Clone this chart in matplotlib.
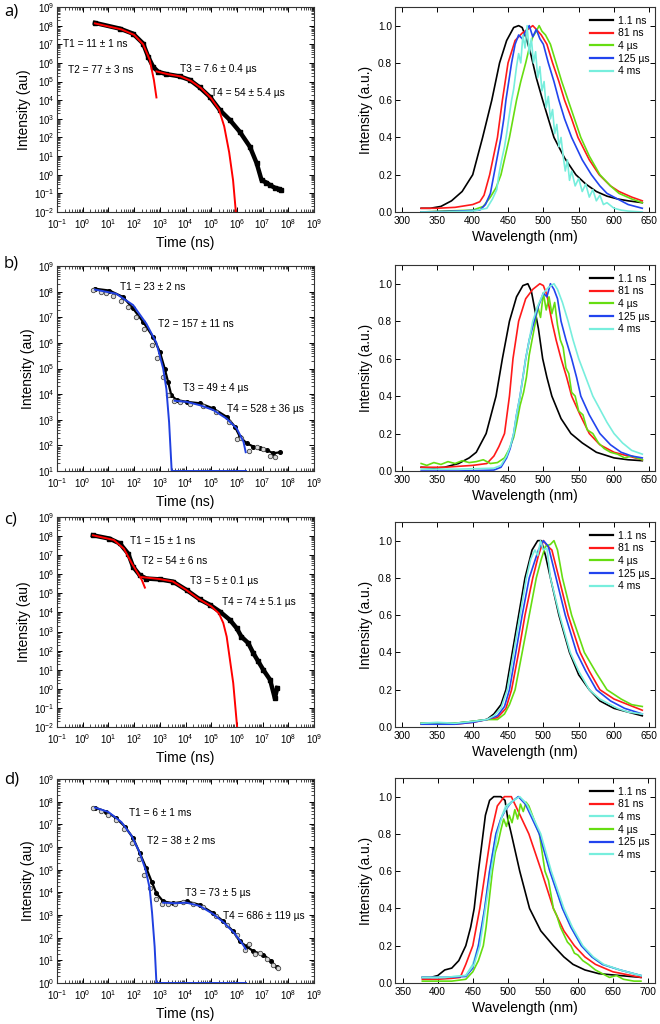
import math
import matplotlib
matplotlib.use('Agg')
import matplotlib.pyplot as plt
from matplotlib.ticker import FixedLocator, LogLocator, NullFormatter

plt.rcParams['font.family'] = ['Liberation Sans', 'DejaVu Sans']
plt.rcParams['mathtext.fontset'] = 'custom'
plt.rcParams['mathtext.rm'] = 'Liberation Sans'
plt.rcParams['mathtext.default'] = 'regular'

# ---------------- decay data (time in ns, intensity in au) ----------------
a_t = [3.0, 28, 91, 224, 355, 550, 870, 1.8e3, 6.0e3, 1.5e4, 3.6e4, 8.9e4, 2.2e5, 5.4e5,
       1.3e6, 3.2e6, 5.9e6, 9.1e6, 1.4e7, 2.0e7, 3.0e7, 4.5e7, 5.2e7]
a_I = [1.4e8, 6.9e7, 3.7e7, 1.1e7, 2.1e6, 6.2e5, 3.3e5, 2.5e5, 1.9e5, 1.2e5, 4.8e4, 1.5e4, 2.9e3, 850,
       200, 32, 4.1, 0.51, 0.38, 0.27, 0.2, 0.17, 0.15]
a_fit1_t = [3.0, 32, 100, 224, 410, 590, 740]
a_fit1_I = [1.32e8, 6.3e7, 3.2e7, 1.0e7, 1.4e6, 1.2e5, 1.4e4]
a_fit2_t = [740, 2e3, 6.3e3, 1.6e4, 4e4, 1e5, 2e5, 3.2e5, 5e5, 7.1e5, 9.1e5]
a_fit2_I = [3.5e5, 2.5e5, 1.9e5, 1.1e5, 4.5e4, 1.26e4, 3.2e3, 400, 16, 0.5, 0.01]

b_t = [3.0, 11, 37, 91, 224, 550, 1.0e3, 1.55e3, 2.1e3, 2.8e3, 4.5e3, 1.1e4, 3.6e4, 1.2e5, 4.0e5,
       8.3e5, 1.3e6, 2.4e6, 4.4e6, 7.9e6, 1.45e7, 2.6e7, 4.8e7]
b_I = [1.3e8, 1.1e8, 6.2e7, 2.2e7, 6.6e6, 1.7e6, 4.5e5, 1.0e5, 3.0e4, 9.1e3, 5.9e3, 5.0e3, 4.4e3, 2.75e3, 1.3e3,
       540, 220, 120, 90, 76, 66, 49, 54]
b_t2 = [2.5, 5, 8, 15, 30, 60, 120, 250, 500, 800, 1.3e3, 2.0e3, 3.5e3, 6e3, 1.5e4, 5e4, 1.5e5, 5e5,
        1.0e6, 1.5e6, 3e6, 6e6, 1.0e7, 2.0e7, 3.0e7]
b_I2 = [1.2e8, 1.0e8, 9e7, 7e7, 4.5e7, 2.5e7, 1.0e7, 3.5e6, 8e5, 2.5e5, 4.5e4, 9e3, 5.2e3, 4.8e3, 4.3e3, 3.3e3,
        2.0e3, 800, 180, 200, 60, 90, 70, 40, 35]
b_fit1_t = [3.0, 20, 91, 300, 740, 1.35e3, 1.8e3, 2.3e3, 2.6e3, 2.9e3]
b_fit1_I = [1.2e8, 8.3e7, 3.0e7, 5.6e6, 1.0e6, 1.0e5, 1.6e4, 800, 80, 10]
b_fit2_t = [3.8e3, 1.1e4, 3.6e4, 1.2e5, 4.0e5, 9.8e5, 1.8e6, 2.2e6]
b_fit2_I = [5.5e3, 5.0e3, 3.7e3, 2.4e3, 1.1e3, 460, 140, 54]

c_t = [2.5, 11, 28, 59, 91, 166, 300, 1.0e3, 3.3e3, 1.1e4, 3.6e4, 8.9e4, 2.2e5, 5.4e5, 9.8e5, 1.5e6,
       2.75e6, 4.4e6, 6.8e6, 1.07e7, 1.95e7, 3.0e7, 3.7e7]
c_I = [1.1e8, 7.4e7, 4.1e7, 1.2e7, 2.5e6, 8.9e5, 6.0e5, 5.4e5, 4.1e5, 1.5e5, 4.8e4, 2.5e4, 1.1e4, 4.0e3,
       1.5e3, 540, 250, 72, 27, 9.8, 3.0, 0.32, 1.1]
c_fit1_t = [2.5, 16, 40, 79, 141, 200, 263]
c_fit1_I = [1.1e8, 6.3e7, 2.2e7, 4.0e6, 1.1e6, 5.0e5, 2.0e5]
c_fit2_t = [200, 1e3, 3.2e3, 1e4, 3.2e4, 1e5, 2e5, 2.95e5, 4e5, 7.2e5, 1.02e6]
c_fit2_I = [7.1e5, 5.6e5, 4.2e5, 1.6e5, 5.2e4, 2.1e4, 8.9e3, 2.8e3, 540, 2.0, 0.01]

d_t = [3.0, 8.3, 20, 44, 91, 166, 300, 480, 740, 1.35e3, 3.3e3, 1.1e4, 3.6e4, 1.2e5, 3.0e5, 7.2e5,
       1.3e6, 2.4e6, 4.4e6, 1.07e7, 2.2e7, 3.5e7]
d_I = [5.5e7, 3.6e7, 1.9e7, 7.9e6, 2.5e6, 5.4e5, 1.15e5, 3.0e4, 9.1e3, 4.0e3, 3.3e3, 4.0e3, 2.8e3, 1.2e3,
       520, 190, 68, 41, 25, 18, 9, 4.9]
d_t2 = [2.5, 5, 10, 20, 40, 80, 150, 250, 400, 700, 1.2e3, 2e3, 4e3, 8e3, 2e4, 5e4, 1.5e5, 4e5, 1e6,
        2e6, 3e6, 5e6, 8e6, 1.5e7, 2.5e7, 4e7]
d_I2 = [5e7, 3.8e7, 2.6e7, 1.6e7, 6e6, 1.5e6, 3e5, 6e4, 1.5e4, 5e3, 3.2e3, 3.0e3, 3.1e3, 3.6e3, 3.2e3,
        2.2e3, 9e2, 3.5e2, 1.3e2, 30, 50, 20, 22, 12, 6, 4.5]
d_fit1_t = [3.0, 10, 32, 79, 158, 280, 400, 500, 630, 740]
d_fit1_I = [5.5e7, 3.5e7, 1.26e7, 3.2e6, 6.3e5, 1e5, 1.6e4, 1.26e3, 40, 1.0]
d_fit2_t = [1.35e3, 4e3, 1.1e4, 3.6e4, 1.2e5, 3.2e5, 7.9e5, 1.6e6, 2.2e6]
d_fit2_I = [3.5e3, 3.3e3, 3.5e3, 2.5e3, 1.1e3, 450, 160, 56, 32]

a_labels = ['T1 = 11 ± 1 ns', 'T2 = 77 ± 3 ns', 'T3 = 7.6 ± 0.4 µs', 'T4 = 54 ± 5.4 µs']
a_lab_pos = [(0.17, 1.1e7), (0.27, 4.0e5), (6.0e3, 5.0e5), (1.0e5, 2.5e4)]
b_labels = ['T1 = 23 ± 2 ns', 'T2 = 157 ± 11 ns', 'T3 = 49 ± 4 µs', 'T4 = 528 ± 36 µs']
b_lab_pos = [(28, 1.45e8), (870, 5.6e6), (8.1e3, 1.66e4), (4.0e5, 2.6e3)]
c_labels = ['T1 = 15 ± 1 ns', 'T2 = 54 ± 6 ns', 'T3 = 5 ± 0.1 µs', 'T4 = 74 ± 5.1 µs']
c_lab_pos = [(68, 5.4e7), (210, 4.8e6), (1.5e4, 4.4e5), (2.75e5, 3.4e4)]
d_labels = ['T1 = 6 ± 1 ms', 'T2 = 38 ± 2 ms', 'T3 = 73 ± 5 µs', 'T4 = 686 ± 119 µs']
d_lab_pos = [(65, 3.1e7), (320, 1.9e6), (9.3e3, 9.1e3), (3.0e5, 8.7e2)]

decay_xticks = [1e-1, 1e0, 1e1, 1e2, 1e3, 1e4, 1e5, 1e6, 1e7, 1e8, 1e9]

# ---------------- spectra ----------------
legend_abc = ['1.1 ns', '81 ns', '4 µs', '125 µs', '4 ms']
legend_d = ['1.1 ns', '81 ns', '4 ms', '4 µs', '125 µs', '4 ms']

a_black_wl = [327, 340, 355, 370, 385, 400, 414, 427, 438, 448, 458, 465, 470, 476, 482, 490, 499, 507, 515, 530, 546, 560, 575, 590, 605, 620, 640]
a_black_I = [0.02, 0.02, 0.03, 0.06, 0.11, 0.20, 0.40, 0.60, 0.80, 0.92, 0.99, 1.00, 0.99, 0.93, 0.85, 0.72, 0.60, 0.50, 0.40, 0.29, 0.20, 0.15, 0.11, 0.085, 0.07, 0.06, 0.05]
a_red_wl = [327, 350, 375, 400, 410, 416, 424, 435, 442, 450, 460, 470, 478, 485, 490, 497, 505, 513, 522, 530, 540, 549, 565, 579, 595, 607, 625, 640]
a_red_I = [0.02, 0.02, 0.025, 0.04, 0.055, 0.09, 0.2, 0.4, 0.6, 0.8, 0.92, 0.96, 0.98, 1.0, 0.98, 0.95, 0.9, 0.8, 0.7, 0.6, 0.5, 0.4, 0.28, 0.2, 0.14, 0.11, 0.08, 0.06]
a_green_wl = [327, 360, 400, 415, 425, 433, 440, 446, 452, 457, 462, 468, 475, 480, 485, 490, 494, 498, 503, 510, 518, 526, 535, 544, 553, 565, 580, 595, 607, 625, 640]
a_green_I = [0.0, 0.005, 0.01, 0.03, 0.08, 0.13, 0.2, 0.3, 0.4, 0.5, 0.6, 0.7, 0.8, 0.88, 0.94, 0.97, 1.0, 0.97, 0.95, 0.9, 0.8, 0.7, 0.6, 0.5, 0.4, 0.3, 0.2, 0.14, 0.1, 0.07, 0.05]
a_blue_wl = [327, 380, 410, 418, 425, 430, 435, 440, 444, 447, 451, 455, 460, 465, 470, 475, 480, 485, 490, 495, 500, 507, 515, 522, 530, 540, 555, 568, 580, 590, 605, 620, 640]
a_blue_I = [0.0, 0.005, 0.01, 0.04, 0.1, 0.2, 0.3, 0.4, 0.5, 0.6, 0.7, 0.8, 0.9, 0.95, 0.93, 0.97, 1.0, 0.94, 0.98, 0.93, 0.9, 0.8, 0.7, 0.6, 0.5, 0.4, 0.28, 0.2, 0.14, 0.1, 0.07, 0.04, 0.02]
a_cyan_wl = [327, 360, 400, 420, 428, 434, 437, 441, 445, 448, 451, 455, 458, 462, 465, 468, 471, 474, 477, 480, 483, 486, 489, 492, 495, 498, 501, 504, 507, 510, 513, 516, 519, 522, 525, 528, 531, 534, 537, 540, 545, 550, 555, 560, 565, 570, 575, 580, 585, 590, 600, 610, 620, 640]
a_cyan_I = [0.0, 0.0, 0.005, 0.02, 0.07, 0.12, 0.2, 0.28, 0.35, 0.42, 0.5, 0.6, 0.66, 0.78, 0.85, 0.8, 0.95, 0.88, 1.0, 0.85, 0.93, 0.8, 0.86, 0.72, 0.78, 0.65, 0.7, 0.56, 0.62, 0.5, 0.55, 0.42, 0.47, 0.35, 0.4, 0.3, 0.22, 0.28, 0.17, 0.22, 0.14, 0.18, 0.11, 0.15, 0.08, 0.12, 0.06, 0.09, 0.04, 0.05, 0.02, 0.01, 0.005, 0.0]

b_black_wl = [327, 345, 360, 380, 395, 405, 419, 433, 442, 452, 462, 471, 478, 483, 487, 493, 499, 505, 512, 525, 539, 555, 575, 600, 620, 640]
b_black_I = [0.02, 0.015, 0.02, 0.04, 0.07, 0.1, 0.2, 0.4, 0.6, 0.8, 0.93, 0.99, 1.0, 0.96, 0.88, 0.76, 0.6, 0.5, 0.4, 0.28, 0.2, 0.15, 0.1, 0.07, 0.06, 0.055]
b_red_wl = [327, 360, 400, 420, 430, 437, 445, 452, 457, 465, 475, 485, 495, 500, 505, 512, 518, 525, 533, 540, 552, 565, 580, 600, 620, 640]
b_red_I = [0.02, 0.02, 0.03, 0.04, 0.08, 0.13, 0.2, 0.4, 0.6, 0.8, 0.92, 0.97, 1.0, 0.99, 0.94, 0.8, 0.7, 0.6, 0.5, 0.4, 0.3, 0.2, 0.14, 0.1, 0.08, 0.06]
b_green_wl = [327, 335, 345, 355, 365, 375, 385, 395, 405, 415, 425, 435, 445, 452, 458, 462, 467, 472, 476, 480, 484, 488, 492, 496, 500, 504, 508, 512, 516, 520, 524, 528, 532, 536, 540, 545, 550, 556, 562, 570, 578, 586, 595, 605, 615, 625, 640]
b_green_I = [0.04, 0.03, 0.045, 0.035, 0.05, 0.04, 0.055, 0.045, 0.05, 0.06, 0.04, 0.045, 0.07, 0.12, 0.18, 0.25, 0.35, 0.42, 0.5, 0.62, 0.7, 0.78, 0.88, 0.82, 0.95, 0.86, 0.93, 0.84, 0.9, 0.78, 0.7, 0.66, 0.55, 0.52, 0.42, 0.4, 0.32, 0.3, 0.22, 0.2, 0.15, 0.12, 0.1, 0.09, 0.07, 0.08, 0.06]
b_blue_wl = [327, 380, 430, 440, 448, 453, 458, 462, 467, 471, 475, 480, 487, 493, 500, 505, 510, 515, 520, 525, 532, 540, 547, 553, 565, 580, 595, 610, 625, 640]
b_blue_I = [0.0, 0.0, 0.005, 0.02, 0.07, 0.12, 0.2, 0.3, 0.4, 0.5, 0.6, 0.7, 0.8, 0.88, 0.95, 0.93, 1.0, 0.97, 0.92, 0.8, 0.7, 0.6, 0.5, 0.4, 0.3, 0.2, 0.14, 0.1, 0.08, 0.07]
b_cyan_wl = [327, 380, 430, 440, 448, 453, 458, 462, 467, 471, 475, 480, 485, 492, 500, 507, 515, 520, 527, 535, 542, 550, 560, 570, 580, 590, 600, 612, 625, 640]
b_cyan_I = [0.01, 0.01, 0.015, 0.03, 0.08, 0.13, 0.2, 0.3, 0.4, 0.5, 0.6, 0.7, 0.8, 0.88, 0.95, 0.98, 1.0, 0.97, 0.9, 0.8, 0.7, 0.6, 0.5, 0.4, 0.33, 0.26, 0.2, 0.15, 0.11, 0.09]

c_black_wl = [327, 350, 375, 400, 420, 430, 440, 447, 456, 465, 474, 484, 492, 497, 503, 510, 522, 537, 550, 565, 580, 600, 620, 640]
c_black_I = [0.02, 0.02, 0.02, 0.03, 0.04, 0.07, 0.12, 0.2, 0.4, 0.6, 0.8, 0.95, 1.0, 1.0, 0.92, 0.8, 0.6, 0.4, 0.28, 0.2, 0.14, 0.1, 0.08, 0.06]
c_red_wl = [327, 375, 400, 420, 435, 447, 455, 465, 474, 485, 493, 500, 506, 512, 522, 535, 552, 565, 580, 600, 620, 640]
c_red_I = [0.015, 0.015, 0.025, 0.04, 0.05, 0.1, 0.2, 0.4, 0.6, 0.8, 0.92, 1.0, 0.97, 0.95, 0.8, 0.6, 0.4, 0.3, 0.2, 0.15, 0.12, 0.09]
c_green_wl = [327, 375, 400, 420, 435, 445, 452, 460, 470, 480, 490, 497, 503, 510, 515, 520, 527, 540, 558, 575, 590, 610, 625, 640]
c_green_I = [0.02, 0.02, 0.03, 0.04, 0.04, 0.07, 0.12, 0.2, 0.4, 0.6, 0.8, 0.9, 0.97, 0.98, 1.0, 0.95, 0.8, 0.6, 0.4, 0.29, 0.2, 0.15, 0.12, 0.11]
c_blue_wl = [327, 375, 400, 420, 435, 445, 452, 461, 470, 480, 493, 500, 507, 518, 531, 547, 560, 575, 595, 615, 640]
c_blue_I = [0.015, 0.015, 0.025, 0.04, 0.06, 0.11, 0.2, 0.4, 0.6, 0.8, 0.95, 1.0, 0.97, 0.8, 0.6, 0.4, 0.3, 0.2, 0.14, 0.1, 0.07]
c_cyan_wl = [327, 350, 375, 400, 420, 430, 440, 449, 458, 467, 476, 482, 488, 492, 496, 500, 505, 510, 523, 538, 550, 565, 580, 605, 620, 640]
c_cyan_I = [0.02, 0.025, 0.02, 0.03, 0.04, 0.06, 0.1, 0.2, 0.4, 0.6, 0.8, 0.9, 0.95, 0.92, 1.0, 0.95, 0.96, 0.8, 0.6, 0.4, 0.3, 0.2, 0.15, 0.1, 0.08, 0.07]

d_black_wl = [378, 390, 400, 410, 420, 430, 440, 447, 452, 458, 463, 468, 474, 480, 490, 496, 500, 505, 511, 517, 531, 547, 565, 580, 593, 610, 630, 660, 690]
d_black_I = [0.03, 0.03, 0.04, 0.07, 0.08, 0.12, 0.2, 0.3, 0.4, 0.6, 0.75, 0.9, 0.98, 1.0, 1.0, 0.98, 0.88, 0.8, 0.7, 0.6, 0.4, 0.28, 0.2, 0.14, 0.1, 0.07, 0.05, 0.04, 0.03]
d_red_wl = [378, 400, 420, 432, 440, 450, 460, 468, 476, 485, 495, 505, 515, 530, 548, 565, 580, 595, 610, 625, 650, 690]
d_red_I = [0.02, 0.02, 0.025, 0.03, 0.1, 0.2, 0.4, 0.6, 0.8, 0.95, 1.0, 1.0, 0.92, 0.8, 0.6, 0.4, 0.28, 0.2, 0.14, 0.1, 0.06, 0.03]
d_cyan1_wl = [378, 410, 440, 450, 458, 467, 474, 483, 490, 497, 505, 515, 525, 545, 560, 578, 590, 605, 620, 635, 660, 690]
d_cyan1_I = [0.03, 0.03, 0.04, 0.1, 0.2, 0.4, 0.6, 0.8, 0.88, 0.95, 0.97, 1.0, 0.97, 0.8, 0.6, 0.4, 0.3, 0.2, 0.14, 0.1, 0.07, 0.04]
d_green_wl = [378, 400, 420, 440, 450, 458, 465, 469, 472, 475, 478, 482, 486, 490, 494, 498, 502, 506, 510, 514, 518, 522, 526, 530, 535, 540, 545, 553, 558, 565, 570, 575, 580, 585, 590, 595, 600, 607, 615, 625, 635, 645, 655, 665, 680, 690]
d_green_I = [0.01, 0.01, 0.01, 0.02, 0.06, 0.12, 0.2, 0.3, 0.4, 0.5, 0.6, 0.7, 0.75, 0.82, 0.88, 0.84, 0.9, 0.86, 0.93, 0.88, 0.96, 0.92, 0.97, 0.95, 0.9, 0.85, 0.8, 0.6, 0.55, 0.4, 0.36, 0.3, 0.26, 0.22, 0.2, 0.16, 0.15, 0.12, 0.1, 0.07, 0.05, 0.03, 0.04, 0.02, 0.01, 0.01]
d_blue_wl = [378, 410, 440, 450, 458, 467, 474, 483, 490, 497, 505, 515, 525, 545, 560, 578, 590, 605, 620, 635, 660, 690]
d_blue_I = [0.03, 0.03, 0.035, 0.08, 0.2, 0.4, 0.6, 0.8, 0.88, 0.93, 0.97, 1.0, 0.96, 0.8, 0.6, 0.4, 0.3, 0.2, 0.14, 0.1, 0.07, 0.04]
d_cyan2_wl = [378, 410, 440, 452, 460, 468, 476, 485, 492, 500, 508, 517, 527, 547, 562, 580, 592, 607, 622, 637, 660, 690]
d_cyan2_I = [0.03, 0.03, 0.04, 0.1, 0.2, 0.4, 0.6, 0.8, 0.9, 0.95, 0.98, 1.0, 0.96, 0.8, 0.6, 0.4, 0.3, 0.2, 0.14, 0.1, 0.07, 0.04]

# ---------------- styling ----------------
BLACK, RED, GREEN, BLUE, CYAN = '#000000', '#ff1a1a', '#66dd11', '#2244ee', '#77eedd'
FIT_RED, FIT_BLUE = '#ff0000', '#2040e0'

W, H = 660, 1024
fig = plt.figure(figsize=(W / 100, H / 100), dpi=100)


def px_axes(x0, y0, x1, y1):
    return fig.add_axes([x0 / W, 1 - y1 / H, (x1 - x0) / W, (y1 - y0) / H])


def style_common(ax):
    for s in ax.spines.values():
        s.set_linewidth(0.8)
        s.set_color('#333333')
    ax.tick_params(which='both', direction='in', top=True, right=True, labelsize=7, pad=2)
    ax.tick_params(which='major', length=3.5, width=0.7)
    ax.tick_params(which='minor', length=2, width=0.5)


def decay_axes(box, ylo, t, I, fits, fitcolor, labels, lab_pos, open_data=None, tail=False):
    ax = px_axes(*box)
    ax.set_xscale('log')
    ax.set_yscale('log')
    ax.set_xlim(1e-1, 1e9)
    ax.set_ylim(ylo, 1e9)
    if open_data is None:
        ax.plot(t, I, color='black', lw=3.2, marker='s', ms=3.2, zorder=2)
    else:
        ax.plot(t, I, color='black', lw=1.6, marker='o', ms=2.6, zorder=2)
        ax.plot(open_data[0], open_data[1], ls='none', marker='o', ms=3.2, mfc='#d8d8d8',
                mec='#444444', mew=0.6, zorder=3)
    for ft, fI in fits:
        ax.plot(ft, fI, color=fitcolor, lw=1.4, zorder=4)
    if tail:
        ax.plot([fits[0][0][-1], fits[1][0][-1]], [ylo, ylo], color=fitcolor, lw=1.4, zorder=4)
    for txt, (x, y) in zip(labels, lab_pos):
        ax.text(x, y, txt, fontsize=7.3, ha='left', va='center')
    ax.xaxis.set_major_locator(FixedLocator(decay_xticks))
    ax.set_xticklabels([r'$10^{%d}$' % e for e in range(-1, 10)])
    e0 = int(round(math.log10(ylo)))
    yt = [10.0 ** e for e in range(e0, 10)]
    ax.yaxis.set_major_locator(FixedLocator(yt))
    ax.set_yticklabels([r'$10^{%d}$' % e for e in range(e0, 10)])
    for axis in (ax.xaxis, ax.yaxis):
        axis.set_minor_locator(LogLocator(base=10, subs=range(2, 10), numticks=50))
        axis.set_minor_formatter(NullFormatter())
    style_common(ax)
    ax.tick_params(axis='x', pad=4)
    ax.set_xlabel('Time (ns)', fontsize=10, labelpad=3)
    ax.set_ylabel('Intensity (au)', fontsize=10, labelpad=2)
    return ax


def spectra_axes(box, xlim, xticks, series, labels):
    ax = px_axes(*box)
    for (wl, I, c) in series:
        ax.plot(wl, I, color=c, lw=1.2)
    ax.set_xlim(*xlim)
    ax.set_ylim(0, 1.1)
    ax.set_xticks(xticks)
    ax.set_yticks([0, 0.2, 0.4, 0.6, 0.8, 1.0])
    ax.set_yticklabels(['0.0', '0.2', '0.4', '0.6', '0.8', '1.0'])
    style_common(ax)
    ax.tick_params(labelsize=7.3)
    ax.tick_params(axis='x', pad=3)
    leg = ax.legend(labels, loc='upper right', bbox_to_anchor=(1.0, 0.985), frameon=False,
                    fontsize=7.5, handlelength=2.2, handletextpad=0.45, labelspacing=0.25,
                    borderaxespad=0.15)
    for h in leg.get_lines():
        h.set_linewidth(1.6)
    ax.set_xlabel('Wavelength (nm)', fontsize=10, labelpad=3)
    ax.set_ylabel('Intensity (a.u.)', fontsize=10, labelpad=4)
    return ax


# Left: decays
decay_axes((57, 7, 314, 212), 1e-2, a_t, a_I, [(a_fit1_t, a_fit1_I), (a_fit2_t, a_fit2_I)], FIT_RED,
           a_labels, a_lab_pos)
decay_axes((57, 266, 314, 471), 1e1, b_t, b_I, [(b_fit1_t, b_fit1_I), (b_fit2_t, b_fit2_I)], FIT_BLUE,
           b_labels, b_lab_pos, open_data=(b_t2, b_I2), tail=True)
decay_axes((57, 517, 314, 727), 1e-2, c_t, c_I, [(c_fit1_t, c_fit1_I), (c_fit2_t, c_fit2_I)], FIT_RED,
           c_labels, c_lab_pos)
decay_axes((57, 779, 314, 983), 1e0, d_t, d_I, [(d_fit1_t, d_fit1_I), (d_fit2_t, d_fit2_I)], FIT_BLUE,
           d_labels, d_lab_pos, open_data=(d_t2, d_I2), tail=True)

# Right: spectra
xt_abc = [300, 350, 400, 450, 500, 550, 600, 650]
spectra_axes((395, 7, 655, 212), (290, 658), xt_abc,
             [(a_black_wl, a_black_I, BLACK), (a_red_wl, a_red_I, RED), (a_green_wl, a_green_I, GREEN),
              (a_blue_wl, a_blue_I, BLUE), (a_cyan_wl, a_cyan_I, CYAN)], legend_abc)
spectra_axes((395, 265, 655, 471), (290, 658), xt_abc,
             [(b_black_wl, b_black_I, BLACK), (b_red_wl, b_red_I, RED), (b_green_wl, b_green_I, GREEN),
              (b_blue_wl, b_blue_I, BLUE), (b_cyan_wl, b_cyan_I, CYAN)], legend_abc)
spectra_axes((395, 522, 655, 727), (290, 658), xt_abc,
             [(c_black_wl, c_black_I, BLACK), (c_red_wl, c_red_I, RED), (c_green_wl, c_green_I, GREEN),
              (c_blue_wl, c_blue_I, BLUE), (c_cyan_wl, c_cyan_I, CYAN)], legend_abc)
spectra_axes((395, 778, 655, 983), (339, 710), [350, 400, 450, 500, 550, 600, 650, 700],
             [(d_black_wl, d_black_I, BLACK), (d_red_wl, d_red_I, RED), (d_cyan1_wl, d_cyan1_I, CYAN),
              (d_green_wl, d_green_I, GREEN), (d_blue_wl, d_blue_I, BLUE), (d_cyan2_wl, d_cyan2_I, CYAN)],
             legend_d)

# Panel letters
for letter, ypx in zip(['a)', 'b)', 'c)', 'd)'], [12, 263, 519, 779]):
    fig.text(4 / W, 1 - ypx / H, letter, fontsize=12, ha='left', va='center',
             family=['Open Sans', 'DejaVu Sans'])

fig.savefig('out.png', dpi=100)
